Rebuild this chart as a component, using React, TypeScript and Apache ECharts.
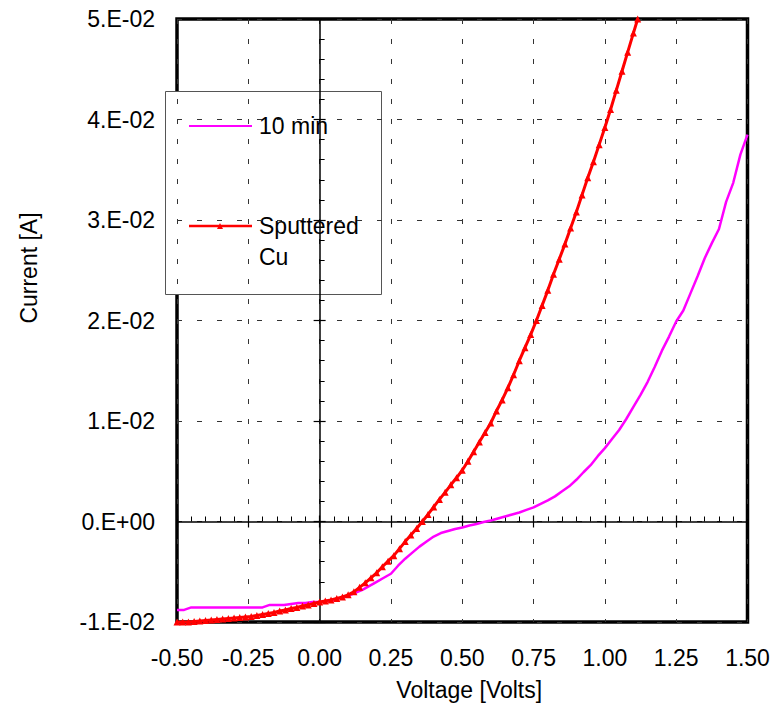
import React, { useEffect, useRef } from "react";
import * as echarts from "echarts";

// Sputtered Cu: voltage [V] and current [mA]
const RED_V = [-0.50,-0.48,-0.46,-0.44,-0.42,-0.40,-0.38,-0.36,-0.34,-0.32,-0.30,-0.28,-0.26,-0.24,-0.22,-0.20,-0.18,-0.16,-0.14,-0.12,-0.10,-0.08,-0.06,-0.04,-0.02,0.00,0.02,0.04,0.06,0.08,0.10,0.12,0.14,0.16,0.18,0.20,0.22,0.24,0.26,0.28,0.30,0.32,0.34,0.36,0.38,0.40,0.42,0.44,0.46,0.48,0.50,0.52,0.54,0.56,0.58,0.60,0.62,0.64,0.66,0.68,0.70,0.72,0.74,0.76,0.78,0.80,0.82,0.84,0.86,0.88,0.90,0.92,0.94,0.96,0.98,1.00,1.02,1.04,1.06,1.08,1.10,1.115];
const RED_I = [-10.0,-10.0,-10.0,-9.95,-9.9,-9.85,-9.8,-9.75,-9.7,-9.65,-9.6,-9.55,-9.5,-9.45,-9.35,-9.25,-9.15,-9.05,-8.9,-8.8,-8.65,-8.55,-8.4,-8.3,-8.15,-8.0,-7.9,-7.8,-7.65,-7.5,-7.3,-7.0,-6.55,-6.1,-5.6,-5.1,-4.5,-3.95,-3.4,-2.7,-2.0,-1.35,-0.7,0.0,0.7,1.45,2.2,2.9,3.65,4.35,5.1,6.0,6.95,7.9,8.85,9.8,11.0,12.1,13.3,14.6,16.0,17.3,18.6,20.0,21.5,23.0,24.6,26.1,27.6,29.2,30.8,32.5,34.2,35.8,37.5,39.2,41.0,42.9,44.8,46.7,48.6,50.0];

// 10 min: voltage [V] and current [mA]
const MAG_V = [-0.500,-0.475,-0.450,-0.425,-0.400,-0.375,-0.350,-0.325,-0.300,-0.275,-0.250,-0.225,-0.200,-0.175,-0.150,-0.125,-0.100,-0.075,-0.050,-0.025,0.000,0.025,0.050,0.075,0.100,0.125,0.150,0.175,0.200,0.225,0.250,0.275,0.300,0.325,0.350,0.375,0.400,0.425,0.450,0.475,0.500,0.525,0.550,0.575,0.600,0.625,0.650,0.675,0.700,0.725,0.750,0.775,0.800,0.825,0.850,0.875,0.900,0.925,0.950,0.975,1.000,1.025,1.050,1.075,1.100,1.125,1.150,1.175,1.200,1.225,1.250,1.275,1.300,1.325,1.350,1.375,1.400,1.425,1.450,1.475,1.500];
const MAG_I = [-8.8,-8.8,-8.55,-8.55,-8.55,-8.55,-8.55,-8.55,-8.55,-8.55,-8.55,-8.55,-8.55,-8.3,-8.3,-8.3,-8.2,-8.1,-8.1,-8.0,-8.0,-7.9,-7.8,-7.6,-7.4,-7.1,-6.8,-6.4,-6.0,-5.6,-5.2,-4.4,-3.7,-3.1,-2.5,-2.0,-1.5,-1.15,-0.95,-0.75,-0.6,-0.4,-0.25,-0.05,0.1,0.3,0.5,0.7,0.9,1.15,1.4,1.75,2.1,2.5,3.0,3.5,4.15,4.9,5.6,6.5,7.3,8.2,9.1,10.2,11.4,12.6,13.9,15.4,17.0,18.4,19.9,21.0,22.7,24.4,26.2,27.7,29.1,31.8,33.7,36.5,38.5];

// Y tick values (mA) and their labels (A)
const Y_TICK_VALUES = [-10, 0, 10, 20, 30, 40, 50];
const Y_TICK_LABELS = ["-1.E-02", "0.E+00", "1.E-02", "2.E-02", "3.E-02", "4.E-02", "5.E-02"];

const SERIES_NAMES = ["10 min", "Sputtered\nCu"];

const FONT = "'Liberation Sans', Arial, Helvetica, sans-serif";

export default function App() {
  const ref = useRef<HTMLDivElement>(null);

  useEffect(() => {
    document.body.style.margin = "0";
    if (!ref.current) return;
    const chart = echarts.init(ref.current, undefined, { renderer: "svg" });

    const redData = RED_V.map((v, i) => [v, RED_I[i]]);
    const magData = MAG_V.map((v, i) => [v, MAG_I[i]]);

    const dashed = { show: true, lineStyle: { color: "#333", width: 1, type: [5, 15] as any } };

    const xBase = { type: "value", min: -0.5, max: 1.5, interval: 0.25, position: "bottom" };
    const yBase = { type: "value", min: -10, max: 50, interval: 10, position: "left" };

    const option: any = {
      animation: false,
      backgroundColor: "#fff",
      grid: {
        left: 177, right: 30.5, top: 19, bottom: 89,
        show: true, borderColor: "#000", borderWidth: 3.5, backgroundColor: "transparent",
      },
      xAxis: [
        {
          ...xBase,
          axisLine: { show: false, onZero: false },
          axisTick: { show: false },
          axisLabel: {
            color: "#000", fontSize: 23, fontFamily: FONT, margin: 24,
            formatter: (v: number) => v.toFixed(2),
          },
          splitLine: dashed,
          name: "Voltage [Volts]",
          nameLocation: "middle",
          nameGap: 56,
          nameTextStyle: { color: "#000", fontSize: 23, fontFamily: FONT, padding: [0, 0, 0, 14] },
        },
        {
          ...xBase,
          axisLine: { show: true, onZero: true, onZeroAxisIndex: 0, lineStyle: { color: "#000", width: 1.5 } },
          axisTick: { show: true, inside: true, length: 6, lineStyle: { color: "#000", width: 1.2 } },
          minorTick: { show: true, splitNumber: 5, length: 5, lineStyle: { color: "#000", width: 1 } },
          axisLabel: { show: false },
          splitLine: { show: false },
        },
        {
          ...xBase,
          axisLine: { show: false, onZero: true, onZeroAxisIndex: 0 },
          axisTick: { show: true, inside: false, length: 6, lineStyle: { color: "#000", width: 1.2 } },
          axisLabel: { show: false },
          splitLine: { show: false },
        },
      ],
      yAxis: [
        {
          ...yBase,
          axisLine: { show: false, onZero: false },
          axisTick: { show: false },
          axisLabel: {
            color: "#000", fontSize: 23, fontFamily: FONT, margin: 22,
            formatter: (v: number) => {
              const k = Y_TICK_VALUES.indexOf(Math.round(v));
              return k >= 0 ? Y_TICK_LABELS[k] : "";
            },
          },
          splitLine: dashed,
        },
        {
          ...yBase,
          axisLine: { show: true, onZero: true, onZeroAxisIndex: 0, lineStyle: { color: "#000", width: 1.5 } },
          axisTick: { show: true, inside: true, length: 6, lineStyle: { color: "#000", width: 1.2 } },
          minorTick: { show: true, splitNumber: 5, length: 5, lineStyle: { color: "#000", width: 1 } },
          axisLabel: { show: false },
          splitLine: { show: false },
        },
        {
          ...yBase,
          axisLine: { show: false, onZero: true, onZeroAxisIndex: 0 },
          axisTick: { show: true, inside: false, length: 6, lineStyle: { color: "#000", width: 1.2 } },
          axisLabel: { show: false },
          splitLine: { show: false },
        },
      ],
      series: [
        {
          name: SERIES_NAMES[0],
          type: "line",
          xAxisIndex: 0,
          yAxisIndex: 0,
          data: magData,
          showSymbol: false,
          symbol: "none",
          lineStyle: { color: "#ff00ff", width: 2.5 },
          itemStyle: { color: "#ff00ff" },
          z: 3,
        },
        {
          name: SERIES_NAMES[1],
          type: "line",
          xAxisIndex: 0,
          yAxisIndex: 0,
          data: redData,
          showSymbol: true,
          showAllSymbol: true,
          symbol: "triangle",
          symbolSize: 7,
          lineStyle: { color: "#ff0000", width: 3 },
          itemStyle: { color: "#ff0000" },
          z: 4,
        },
      ],
      graphic: [
        {
          type: "text",
          x: 29,
          y: 268,
          rotation: Math.PI / 2,
          style: {
            text: "Current [A]", fill: "#000", fontSize: 23, fontFamily: FONT,
            align: "center", verticalAlign: "middle",
          },
        },
        {
          type: "group",
          z: 20,
          children: [
            {
              type: "rect",
              shape: { x: 165.5, y: 91.5, width: 216, height: 203 },
              style: { fill: "#fff", stroke: "#555", lineWidth: 1 },
            },
            {
              type: "line",
              shape: { x1: 189, y1: 126, x2: 252, y2: 126 },
              style: { stroke: "#ff00ff", lineWidth: 2 },
            },
            {
              type: "text",
              x: 259,
              y: 126,
              style: {
                text: SERIES_NAMES[0], fill: "#000", fontSize: 23, fontFamily: FONT,
                align: "left", verticalAlign: "middle",
              },
            },
            {
              type: "line",
              shape: { x1: 189, y1: 226, x2: 252, y2: 226 },
              style: { stroke: "#ff0000", lineWidth: 2.5 },
            },
            {
              type: "polygon",
              shape: { points: [[217, 229], [223, 229], [220, 223]] },
              style: { fill: "#ff0000" },
            },
            {
              type: "text",
              x: 259,
              y: 210.5,
              style: {
                text: SERIES_NAMES[1], fill: "#000", fontSize: 23, fontFamily: FONT,
                align: "left", verticalAlign: "top", lineHeight: 31,
              },
            },
          ],
        },
      ],
    };

    chart.setOption(option);
    return () => chart.dispose();
  }, []);

  return <div ref={ref} style={{ position: "absolute", left: 0, top: 0, width: 778, height: 711 }} />;
}
